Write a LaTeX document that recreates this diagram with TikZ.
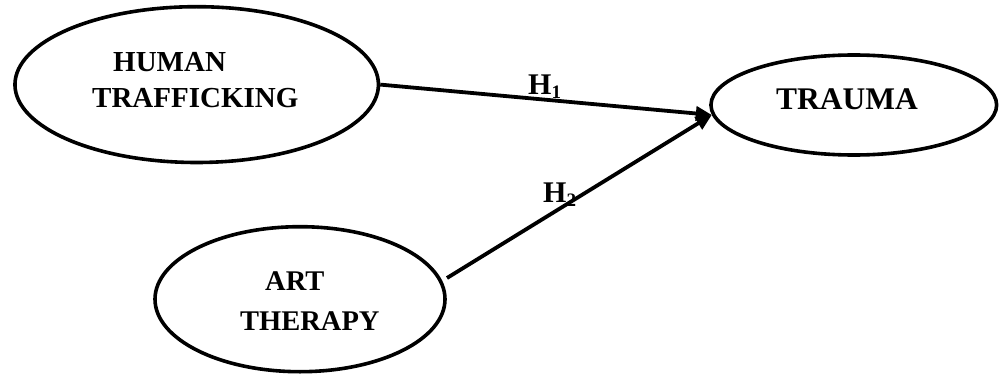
\documentclass[tikz,border=0pt]{standalone}
\usepackage{fontspec}
\setmainfont{Liberation Serif}
\usetikzlibrary{shapes.geometric,arrows.meta}
\newcommand\hsub[1]{\raisebox{-4.5pt}{\fontsize{19}{19}\selectfont #1}}
\begin{document}
\begin{tikzpicture}[x=1pt,y=1pt,
  oval/.style={ellipse, draw, line width=3.6pt, inner sep=0pt},
  lbl/.style={inner sep=0pt, font=\fontsize{29}{36.5}\selectfont\bfseries},
  hyp/.style={inner sep=0pt, anchor=base west, font=\fontsize{30}{36}\selectfont\bfseries},
  link/.style={line width=3.8pt, -{Triangle[length=16pt,width=14pt]}}]
\useasboundingbox (0,0) rectangle (1001,381);
\node[oval, minimum width=363.5pt, minimum height=155.8pt] (ht) at (196.7,296.4) {};
\node[oval, minimum width=290pt, minimum height=145pt] (art) at (300,81.8) {};
\node[oval, minimum width=285.7pt, minimum height=100pt] (trauma) at (853.8,276) {};
\node[lbl, align=left, anchor=west] (htt) at (92,301) {\hspace*{21pt}HUMAN\\TRAFFICKING};
\node[lbl, align=left, anchor=west, font=\fontsize{28.5}{40}\selectfont\bfseries] (artt) at (240,80.1) {\hspace*{25pt}ART\\THERAPY};
\node[lbl, font=\fontsize{31.5}{36}\selectfont\bfseries] (traumat) at (847,282) {TRAUMA};
\coordinate (artout) at (447,103);
\draw[link] (ht.east) -- (trauma.184.5);
\draw[link] (artout) -- (trauma.184.5);
\node[hyp] (h1) at (528,287) {H\hsub{1}};
\node[hyp] (h2) at (543,179) {H\hsub{2}};
\end{tikzpicture}
\end{document}
